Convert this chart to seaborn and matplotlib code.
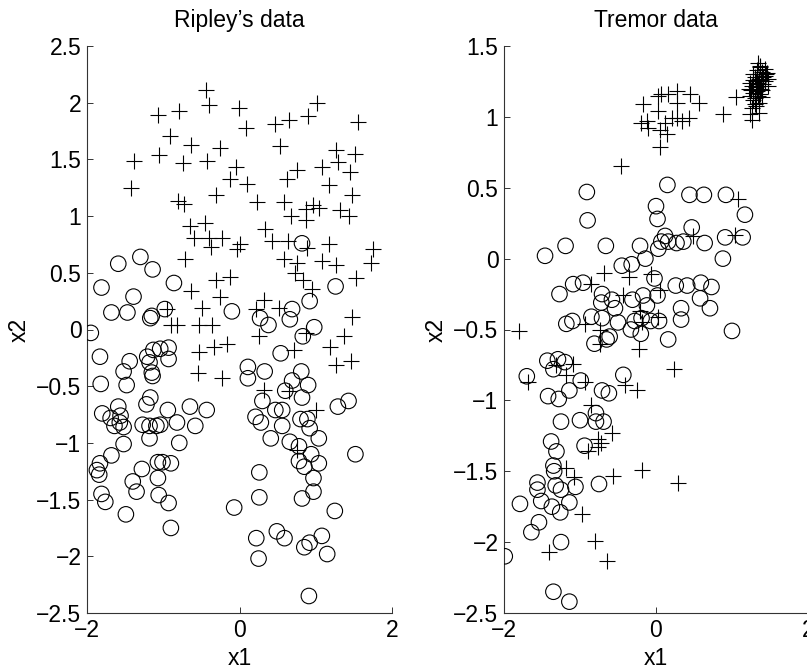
import numpy as np
import pandas as pd
import matplotlib
matplotlib.use("Agg")
import matplotlib.pyplot as plt
import seaborn as sns

# ---------------- Ripley's data ----------------
ripley_plus = [
    (-0.44, 2.11), (-0.40, 1.98), (-1.07, 1.89), (-0.79, 1.93), (-0.01, 1.95), (-0.91, 1.71),
    (-0.63, 1.63), (-0.25, 1.60), (-1.39, 1.49), (-1.05, 1.54), (-0.74, 1.47), (-0.42, 1.49),
    (-0.05, 1.43), (-1.42, 1.25), (-0.13, 1.33), (-0.81, 1.13), (-0.73, 1.11), (-0.31, 1.19),
    (-0.65, 0.91), (-0.45, 0.94), (-0.60, 0.81), (-0.40, 0.81), (-0.23, 0.81), (-0.38, 0.73),
    (-0.03, 0.71), (-0.72, 0.62), (-0.31, 0.44), (-0.12, 0.46), (-0.64, 0.34), (-0.25, 0.29),
    (-0.49, 0.19), (-0.90, 0.04), (-0.82, 0.04), (-0.53, 0.04), (-0.36, 0.04), (-0.95, 0.18),
    (0.08, 1.78), (0.47, 1.81), (0.65, 1.85), (0.90, 1.88), (1.01, 2.00), (1.56, 1.83),
    (0.53, 1.62), (1.27, 1.58), (1.52, 1.55), (0.76, 1.41), (1.08, 1.43), (1.29, 1.48),
    (1.45, 1.39), (0.10, 1.28), (0.62, 1.33), (1.17, 1.27), (1.48, 1.19), (0.23, 1.12),
    (0.58, 1.12), (0.97, 1.10), (1.04, 1.07), (0.87, 1.06), (0.67, 1.00), (0.87, 0.97),
    (1.32, 1.05), (1.43, 1.00), (0.34, 0.89), (0.43, 0.78), (0.63, 0.78), (0.01, 0.75),
    (0.89, 0.72), (1.18, 0.75), (0.58, 0.62), (0.76, 0.59), (1.08, 0.60), (1.27, 0.57),
    (1.75, 0.71), (1.72, 0.59), (0.73, 0.50), (0.83, 0.44), (0.95, 0.36), (1.53, 0.45),
    (0.32, 0.26), (0.21, 0.18), (0.52, 0.19), (1.48, 0.11), (0.25, -0.06), (0.87, -0.03),
    (1.37, -0.06), (-0.53, -0.20), (-0.34, -0.15), (-0.16, -0.13), (-0.55, -0.38),
    (-0.23, -0.43), (1.19, -0.15), (0.71, -0.18), (1.27, -0.31), (1.46, -0.28), (0.32, -0.53),
    (0.65, -0.54), (1.00, -0.71), (0.76, -1.06),
]
ripley_circ = [
    (-1.30, 0.64), (-1.59, 0.58), (-1.14, 0.53), (-1.81, 0.37), (-1.39, 0.29), (-0.86, 0.41),
    (-1.68, 0.15), (-1.47, 0.15), (-1.15, 0.12), (-1.17, 0.10), (-0.98, 0.18), (-0.10, 0.16),
    (-1.95, -0.03), (0.82, 0.76), (1.26, 0.38), (0.92, 0.25), (0.69, 0.18), (0.66, 0.09),
    (0.27, 0.10), (0.38, 0.04), (0.98, 0.02), (0.83, -0.06),
    (-1.83, -0.24), (-1.44, -0.28), (-1.52, -0.37), (-1.21, -0.24), (-1.13, -0.18),
    (-1.04, -0.17), (-0.93, -0.16), (-0.93, -0.26), (-1.18, -0.29), (-1.15, -0.38),
    (-1.14, -0.41), (-1.82, -0.48), (-1.48, -0.49), (-1.17, -0.60), (-1.22, -0.66),
    (-1.59, -0.68), (-1.80, -0.74), (-1.69, -0.78), (-1.56, -0.76), (-1.57, -0.82),
    (-1.64, -0.85), (-1.52, -0.86), (-0.94, -0.71), (-0.65, -0.68), (-0.43, -0.71),
    (-1.27, -0.84), (-1.18, -0.85), (-1.09, -0.85), (-1.04, -0.84), (-0.82, -0.82),
    (-0.58, -0.85), (-1.18, -0.96), (-1.52, -1.01), (-0.79, -1.00), (-1.68, -1.11),
    (-1.83, -1.18), (-1.87, -1.24), (-1.84, -1.28), (-1.28, -1.23), (-1.07, -1.17),
    (-1.01, -1.17), (-0.90, -1.18), (-1.07, -1.31), (-1.40, -1.34), (-1.35, -1.43),
    (-1.81, -1.45), (-1.76, -1.52), (-1.06, -1.46), (-0.93, -1.53), (-1.49, -1.63),
    (-0.90, -1.75), (-0.07, -1.57),
    (0.54, -0.21), (0.11, -0.33), (0.11, -0.43), (0.33, -0.37), (0.81, -0.37), (0.69, -0.45),
    (0.90, -0.49), (0.82, -0.60), (0.60, -0.54), (0.30, -0.63), (0.47, -0.71), (0.56, -0.71),
    (0.21, -0.77), (0.28, -0.82), (0.56, -0.85), (0.80, -0.79), (0.89, -0.79), (0.92, -0.87),
    (1.29, -0.68), (1.43, -0.63), (0.41, -0.96), (0.66, -0.99), (0.78, -1.03), (1.04, -0.96),
    (0.94, -1.10), (0.78, -1.16), (0.85, -1.21), (1.04, -1.18), (1.52, -1.10), (0.97, -1.31),
    (0.97, -1.43), (0.26, -1.26), (0.26, -1.48), (0.82, -1.49), (1.25, -1.60), (0.49, -1.78),
    (0.59, -1.84), (0.22, -1.84), (0.85, -1.92), (0.92, -1.88), (1.08, -1.82), (1.15, -1.98),
    (0.25, -2.02), (0.91, -2.35),
]

# ---------------- Tremor data ----------------
tremor_plus = [
    (-0.17, 1.09), (0.03, 1.15), (0.07, 1.16), (0.27, 1.18), (0.27, 1.10), (0.16, 1.16),
    (0.45, 1.16), (0.56, 1.10), (0.03, 1.04), (-0.20, 0.96), (-0.12, 0.97), (-0.10, 0.92),
    (0.05, 0.91), (0.12, 0.96), (0.21, 0.99), (0.27, 0.99), (0.34, 0.97), (0.43, 0.99),
    (0.14, 0.88), (0.05, 0.79), (-0.46, 0.65), (0.88, 1.02), (1.05, 1.14), (1.24, 1.02),
    (1.26, 0.98), (1.35, 1.03), (1.08, 0.42), (1.04, 0.17), (0.49, 0.16),
    (-0.69, -0.10), (-0.36, -0.13), (-0.06, -0.11), (0.05, -0.22), (-0.85, -0.18),
    (-0.43, -0.26), (-0.21, -0.37), (0.03, -0.41), (-0.19, -0.45), (-0.93, -0.46),
    (-0.74, -0.50), (-0.74, -0.60), (-1.80, -0.51), (-0.22, -0.64), (0.24, -0.78),
    (-1.31, -0.75), (-1.09, -0.74), (-1.18, -0.82), (-1.69, -0.87), (-0.93, -0.87),
    (-0.41, -0.89), (-0.25, -0.93), (-0.85, -1.03), (-0.58, -1.23), (-0.76, -1.27),
    (-0.90, -1.36), (-0.76, -1.33), (-0.72, -1.30), (-1.19, -1.48), (-1.08, -1.54),
    (-0.57, -1.53), (-0.18, -1.49), (0.29, -1.58), (-0.97, -1.80), (-0.80, -1.99),
    (-1.41, -2.07), (-0.65, -2.13),
]
tremor_cluster_x = [1.28, 1.33, 1.37, 1.40, 1.43, 1.35, 1.31, 1.26, 1.30, 1.34, 1.38, 1.41,
                    1.46, 1.37, 1.33, 1.28, 1.25, 1.31, 1.35, 1.40, 1.44, 1.34, 1.30, 1.27,
                    1.37, 1.41, 1.33, 1.28, 1.24, 1.35, 1.40, 1.31, 1.37, 1.43, 1.47, 1.34,
                    1.30, 1.38, 1.33, 1.26, 1.22, 1.47, 1.45, 1.24]
tremor_cluster_y = [1.30, 1.33, 1.35, 1.32, 1.29, 1.27, 1.25, 1.22, 1.28, 1.24, 1.26, 1.23,
                    1.31, 1.20, 1.18, 1.17, 1.19, 1.21, 1.22, 1.19, 1.25, 1.15, 1.13, 1.12,
                    1.16, 1.28, 1.30, 1.26, 1.24, 1.10, 1.14, 1.08, 1.36, 1.34, 1.27, 1.38,
                    1.09, 1.20, 1.23, 1.06, 1.20, 1.22, 1.30, 1.15]
tremor_circ = [
    (0.15, 0.52), (-0.91, 0.47), (-0.90, 0.27), (0.00, 0.37), (0.02, 0.28), (0.44, 0.45),
    (0.63, 0.45), (0.92, 0.45), (1.17, 0.31), (0.47, 0.22), (0.91, 0.15), (1.14, 0.15),
    (0.64, 0.11), (0.36, 0.12), (0.12, 0.16), (0.07, 0.12), (0.16, 0.12), (0.27, 0.11),
    (-0.21, 0.09), (-0.66, 0.09), (-1.19, 0.09), (-1.46, 0.02),
    (0.03, 0.07), (0.88, 0.00), (-0.45, -0.05), (-0.32, -0.04), (-0.14, 0.00), (-0.02, -0.14),
    (0.02, -0.26), (-1.09, -0.18), (-0.96, -0.17), (-1.27, -0.25), (0.26, -0.19), (0.41, -0.19),
    (0.59, -0.17), (0.73, -0.20), (0.58, -0.28), (0.71, -0.35), (0.33, -0.35), (0.33, -0.43),
    (0.16, -0.57), (1.00, -0.51), (-0.71, -0.25), (-0.58, -0.29), (-0.72, -0.31),
    (-0.31, -0.29), (-0.17, -0.26), (-0.12, -0.33), (-0.54, -0.35), (-0.85, -0.41),
    (-0.71, -0.42), (-0.50, -0.45), (-0.33, -0.50), (-0.28, -0.44), (-0.19, -0.42),
    (-0.07, -0.44), (0.04, -0.44), (-0.20, -0.53), (-1.18, -0.46), (-1.10, -0.44),
    (-0.61, -0.55), (-0.65, -0.57), (-0.81, -0.60), (-1.43, -0.72), (-1.29, -0.71),
    (-1.20, -0.73), (-1.35, -0.78), (-1.70, -0.83), (-0.99, -0.86), (-1.14, -0.93),
    (-0.43, -0.82), (-0.71, -0.93), (-0.62, -0.95), (-1.42, -0.97), (-1.28, -0.99),
    (-1.25, -1.15), (-1.00, -1.14), (-0.79, -1.09), (-0.79, -1.15), (-0.69, -1.15),
    (-1.38, -1.29), (-1.31, -1.36), (-0.94, -1.32), (-1.35, -1.46), (-1.34, -1.50),
    (-1.56, -1.58), (-1.56, -1.63), (-1.32, -1.60), (-1.25, -1.63), (-1.06, -1.61),
    (-0.75, -1.59), (-1.79, -1.73), (-1.51, -1.71), (-1.37, -1.75), (-1.26, -1.79),
    (-1.14, -1.72), (-1.54, -1.86), (-1.64, -1.93), (-1.25, -2.00), (-1.99, -2.10),
    (-1.35, -2.35), (-1.14, -2.42),
]

titles = ["Ripley’s data", "Tremor data"]
x_ticks = [-2, 0, 2]
left_yticks = [-2.5, -2, -1.5, -1, -0.5, 0, 0.5, 1, 1.5, 2, 2.5]
right_yticks = [-2.5, -2, -1.5, -1, -0.5, 0, 0.5, 1, 1.5]

sns.set_style("white")
plt.rcParams["font.family"] = ["Liberation Sans", "DejaVu Sans"]
plt.rcParams["text.color"] = "black"
plt.rcParams["axes.labelcolor"] = "black"
plt.rcParams["xtick.color"] = "black"
plt.rcParams["ytick.color"] = "black"

fig = plt.figure(figsize=(8.07, 6.69), dpi=100)
W, H = 807, 669
ax1 = fig.add_axes([87 / W, (H - 613) / H, 305 / W, 567 / H])
ax2 = fig.add_axes([504 / W, (H - 613) / H, 304 / W, 567 / H])

FS = 16.5
MS = 125
LW = 0.8


def draw(ax, plus, circ, title, yticks, ylim):
    px = [p[0] for p in plus]
    py = [p[1] for p in plus]
    cx = [c[0] for c in circ]
    cy = [c[1] for c in circ]
    sns.scatterplot(x=cx, y=cy, marker="o", s=MS, facecolor="none",
                    edgecolor="black", linewidth=LW, ax=ax, zorder=3)
    sns.scatterplot(x=px, y=py, marker="+", s=MS, color="black",
                    linewidth=LW, ax=ax, zorder=3)
    ax.set_xlim(-2, 2)
    ax.set_ylim(*ylim)
    ax.set_xticks(x_ticks)
    ax.set_xticklabels([f"{t:g}".replace("-", "\u2212") for t in x_ticks])
    ax.set_yticks(yticks)
    ax.set_yticklabels([f"{t:g}".replace("-", "\u2212") for t in yticks])
    ax.tick_params(direction="in", length=4.5, width=0.7, labelsize=FS,
                   color="#333333", labelcolor="black", pad=4, left=True, bottom=True)
    for s in ["top", "right"]:
        ax.spines[s].set_visible(False)
    for s in ["left", "bottom"]:
        ax.spines[s].set_color("#333333")
        ax.spines[s].set_linewidth(0.8)
    ax.set_title(title, fontsize=FS, pad=14, color="black")
    ax.set_xlabel("x1", fontsize=FS, labelpad=4, color="black")
    ax.set_ylabel("x2", fontsize=FS, labelpad=4, color="black")
    ax.set_facecolor("white")


draw(ax1, ripley_plus, ripley_circ, titles[0], left_yticks, (-2.5, 2.5))
tremor_all_plus = tremor_plus + list(zip(tremor_cluster_x, tremor_cluster_y))
draw(ax2, tremor_all_plus, tremor_circ, titles[1], right_yticks, (-2.5, 1.5))

fig.savefig("out.png", dpi=100, facecolor="white")
